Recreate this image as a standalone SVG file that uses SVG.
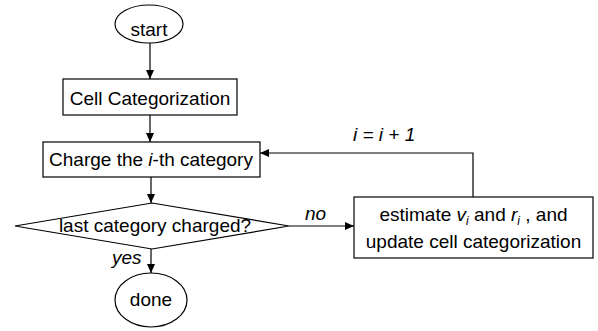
<svg xmlns="http://www.w3.org/2000/svg" width="598" height="331" viewBox="0 0 598 331">
<defs>
<marker id="ah" markerWidth="10" markerHeight="10" refX="9" refY="4" orient="auto" markerUnits="userSpaceOnUse">
<path d="M0,0 L9,4 L0,8 Z" fill="#000"/>
</marker>
</defs>
<style>
.s{fill:#fff;stroke:#000;stroke-width:1.2}
.t{font-family:"Liberation Sans",Arial,Helvetica,sans-serif;font-size:19px;fill:#000}
.c{text-anchor:middle}
.i{font-style:italic}
.sub{font-size:12px;font-style:italic}
.e{fill:none;stroke:#000;stroke-width:1.2}
</style>
<rect width="598" height="331" fill="#fff"/>
<g id="connectors">
<line class="e" x1="150" y1="43" x2="150" y2="79" marker-end="url(#ah)"/>
<line class="e" x1="150" y1="115" x2="150" y2="142" marker-end="url(#ah)"/>
<line class="e" x1="151" y1="177" x2="151" y2="203" marker-end="url(#ah)"/>
<line class="e" x1="151" y1="249" x2="151" y2="273" marker-end="url(#ah)"/>
<line class="e" x1="289" y1="226" x2="354" y2="226" marker-end="url(#ah)"/>
<polyline class="e" points="473,197 473,153 260,153" marker-end="url(#ah)"/>
<text class="t i" x="112" y="264">yes</text>
<text class="t i" x="305" y="220">no</text>
<text class="t i" x="353" y="141">i = i + 1</text>
</g>
<g id="start">
<ellipse class="s" cx="149" cy="24" rx="34" ry="19"/>
<text class="t c" x="149" y="36">start</text>
</g>
<g id="cell">
<rect class="s" x="63" y="79" width="174" height="36"/>
<text class="t c" x="150" y="105">Cell Categorization</text>
</g>
<g id="charge">
<rect class="s" x="43" y="142" width="217" height="35"/>
<text class="t c" x="151" y="166">Charge the <tspan class="i">i</tspan>-th category</text>
</g>
<g id="decision">
<polygon class="s" points="15,226 152,203 289,226 152,249"/>
<text class="t c" x="155" y="232">last category charged?</text>
</g>
<g id="estimate">
<rect class="s" x="354" y="197" width="239" height="61"/>
<text class="t c" x="473.5" y="221">estimate <tspan class="i">v</tspan><tspan class="sub" dy="4">i</tspan><tspan dy="-4"> and </tspan><tspan class="i">r</tspan><tspan class="sub" dy="4">i</tspan><tspan dy="-4"> , and</tspan></text>
<text class="t c" x="473.5" y="248">update cell categorization</text>
</g>
<g id="done">
<ellipse class="s" cx="151" cy="300" rx="36" ry="27"/>
<text class="t c" x="151" y="306">done</text>
</g>
</svg>
